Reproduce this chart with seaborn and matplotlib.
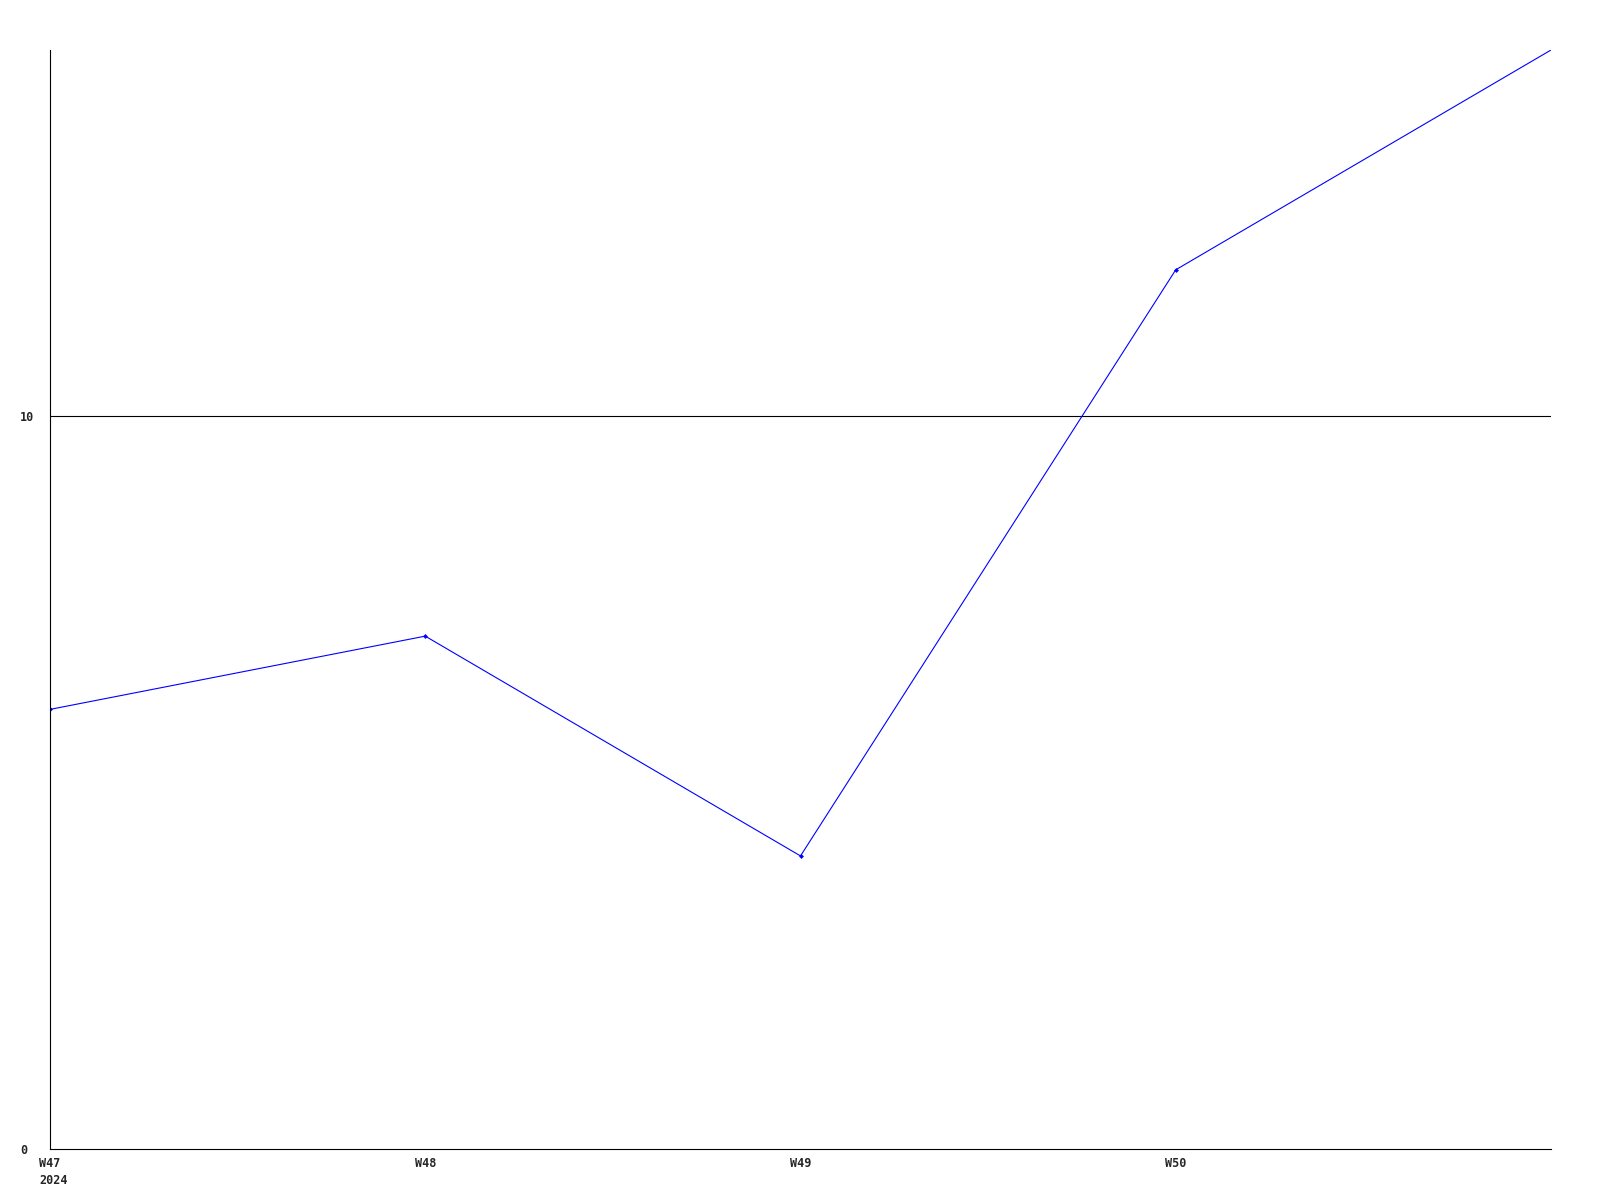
import matplotlib
matplotlib.use("Agg")
import matplotlib.pyplot as plt
import matplotlib.transforms as mtransforms
import seaborn as sns
import pandas as pd

weeks = ["W47", "W48", "W49", "W50", "W51"]
values = [6, 7, 4, 12, 15]
tick_labels = ["W47\n2024", "W48", "W49", "W50"]
y_ticks = [0, 10]

sns.set_style("white")
plt.rcParams['font.family'] = ['DejaVu Sans Mono', 'DejaVu Sans']

df = pd.DataFrame({"week": weeks, "value": values})

fig = plt.figure(figsize=(16, 12), dpi=100)
ax = fig.add_axes([50/1600, 1 - 1149/1200, (1551 - 50)/1600, (1149 - 50)/1200])

sns.lineplot(data=df, x="week", y="value", ax=ax, color="#0000ff", linewidth=0.8,
             marker="D", markersize=2.5, markeredgewidth=0, sort=False,
             markevery=[0, 1, 2, 3])

ax.set_xlim(0, 4)
ax.set_ylim(0, 15)
ax.set_xticks(range(len(tick_labels)))
ax.set_xticklabels(tick_labels, fontsize=8.5, fontweight="bold", ha="center", linespacing=1.35)
ax.set_yticks(y_ticks)
ax.set_yticklabels([str(t) for t in y_ticks], fontsize=8.5, fontweight="bold", ha="left")
ax.tick_params(axis="both", length=0)
ax.tick_params(axis="y", pad=21.6)
ax.tick_params(axis="x", pad=6)

# first label: first line centred on the tick, second line sharing its left edge
first = ax.get_xticklabels()[0]
first.set_horizontalalignment("left")
first.set_multialignment("left")
first.set_transform(first.get_transform() + mtransforms.ScaledTranslation(-10.7 / 100, 0, fig.dpi_scale_trans))

ax.axhline(10, color="black", linewidth=0.8, zorder=1)

for s in ["top", "right"]:
    ax.spines[s].set_visible(False)
for s in ["left", "bottom"]:
    ax.spines[s].set_color("black")
    ax.spines[s].set_linewidth(0.8)

ax.set_xlabel("")
ax.set_ylabel("")
ax.grid(False)

fig.savefig("out.png", dpi=100, facecolor="white")
